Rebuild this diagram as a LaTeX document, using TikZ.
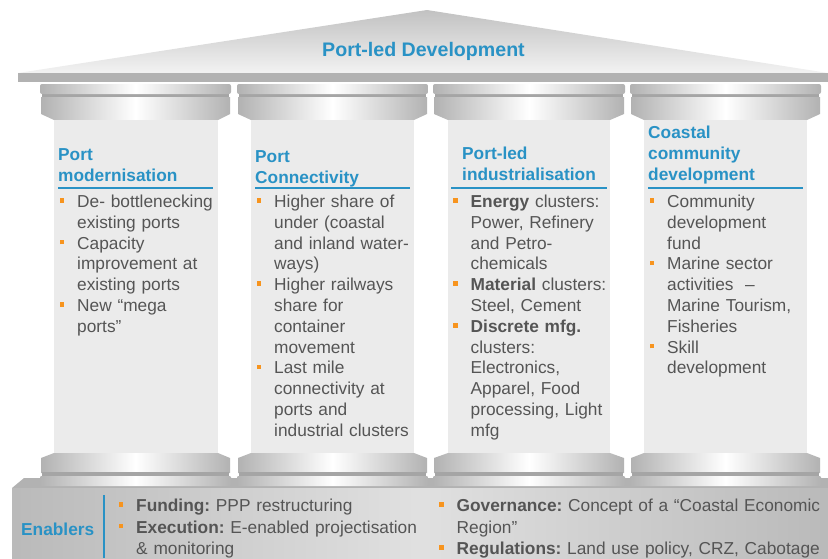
\documentclass[tikz,border=0pt]{standalone}
\usepackage{fontspec}
\setmainfont{Liberation Sans}
\frenchspacing

\definecolor{pblue}{RGB}{41,146,197}
\definecolor{porange}{RGB}{247,148,30}
\definecolor{ptext}{RGB}{85,85,85}
\definecolor{pshaft}{RGB}{235,235,235}
\definecolor{pslab}{RGB}{178,178,178}
\definecolor{pdark}{RGB}{165,165,165}

\newcommand{\pitem}[1]{\hangindent=17.5pt\hangafter=1\noindent\makebox[17.5pt][l]{\textcolor{porange}{\rule[4.8pt]{4.6pt}{4.6pt}}}#1\par}

\begin{document}
\begin{tikzpicture}
          [x=1pt,y=-1pt,
          font=\fontsize{17.3}{20.8}\selectfont,
          slab/.style={left color=pslab,right color=pslab,middle color=white},
          colhead/.style={anchor=base west,inner sep=0pt,text=pblue,text width=170pt,align=left,font=\fontsize{17.3}{20.8}\selectfont\bfseries},
          colbody/.style={anchor=base west,inner sep=0pt,text=ptext,text width=175pt,align=left},
          enabody/.style={anchor=base west,inner sep=0pt,text=ptext,text width=400pt,align=left,font=\fontsize{17.3}{21.5}\selectfont},
          headline/.style={pblue,line width=2pt}]

          \useasboundingbox (0,0) rectangle (828,558);

          % roof
          \shade[top color=pslab!80,bottom color=white!95!black] (18,73) -- (427,10) -- (828,73) -- cycle;
          \fill[pslab] (18,73) rectangle (828,82);
          \node (title) [anchor=base,inner sep=0pt,text=pblue,font=\fontsize{19.6}{23}\selectfont\bfseries] at (423.5,56.5) {Port-led Development};

          % plinth
          \fill[pdark!85] (12,488) -- (24,478) -- (828,478) -- (828,488) -- cycle;
          \shade[left color=pslab!90,right color=pslab!90,middle color=white!88!black] (12,488) rectangle (828,558);

          % columns
          \foreach \capl/\capr/\shl/\shr in {40/231/54/218, 237/428/251/414, 433/625/448/610, 630/821/644/807}{
            \fill[pdark] (\capl+2,93) rectangle (\capr-2,98);
            \shade[slab,rounded corners=2pt] (\capl,84) rectangle (\capr,94);
            \shade[slab] (\capl+1,97) -- (\capr-1,97) -- (\capr-1,114) -- (\shr,120) -- (\shl,120) -- (\capl+1,114) -- cycle;
            \fill[pshaft] (\shl,120) rectangle (\shr,453);
            \shade[slab] (\shl,453) -- (\shr,453) -- (\capr-1,458) -- (\capr-1,473) -- (\capl+1,473) -- (\capl+1,458) -- cycle;
            \fill[pdark] (\capl+2,472) rectangle (\capr-2,477);
            \shade[slab,rounded corners=1pt] (\capl,476) rectangle (\capr,486);
          }

          % column heads
          \node (h1) [colhead] at (58,160.5) {Port\\modernisation};
          \node (h2) [colhead] at (255,162.3) {Port\\Connectivity};
          \node (h3) [colhead] at (462,159.2) {Port-led\\industrialisation};
          \node (h4) [colhead] at (648,138.6) {Coastal\\community\\development};
          \draw [headline] (58,188) -- (213,188);
          \draw [headline] (255,188) -- (410,188);
          \draw [headline] (451,188) -- (607,188);
          \draw [headline] (648,188) -- (803,188);

          % column texts
          \node (b1) [colbody] at (59.5,207.5) {\pitem{De- bottlenecking\newline existing ports}
            \pitem{Capacity\newline improvement at\newline existing ports}
            \pitem{New “mega\newline ports”}};
          \node (b2) [colbody] at (256.5,207.5) {\pitem{Higher share of\newline under (coastal\newline and inland water-\newline ways)}
            \pitem{Higher railways\newline share for\newline container\newline movement}
            \pitem{Last mile\newline connectivity at\newline ports and\newline industrial clusters}};
          \node (b3) [colbody] at (453,207.5) {\pitem{\textbf{Energy} clusters:\newline Power, Refinery\newline and Petro-\newline chemicals}
            \pitem{\textbf{Material} clusters:\newline Steel, Cement}
            \pitem{\textbf{Discrete mfg.}\newline clusters:\newline Electronics,\newline Apparel, Food\newline processing, Light\newline mfg}};
          \node (b4) [colbody] at (649.5,207.5) {\pitem{Community\newline development\newline fund}
            \pitem{Marine sector\newline activities~ –\newline Marine Tourism,\newline Fisheries}
            \pitem{Skill\newline development}};

          % enablers
          \node (enab) [anchor=base west,inner sep=0pt,text=pblue,font=\fontsize{17.3}{20.8}\selectfont\bfseries] at (21,535.5) {Enablers};
          \coordinate (ltop) at (104.3,495);
          \coordinate (lbot) at (104.3,558);
          \draw [headline] (ltop) -- (lbot);
          \node (en1) [enabody] at (118.5,511.5) {\pitem{\textbf{Funding:} PPP restructuring}
            \pitem{\textbf{Execution:} E-enabled projectisation\newline \& monitoring}};
          \node (en2) [enabody] at (439,511.5) {\pitem{\textbf{Governance:} Concept of a “Coastal Economic\newline Region”}
            \pitem{\textbf{Regulations:} Land use policy, CRZ, Cabotage}};

\end{tikzpicture}
\end{document}
